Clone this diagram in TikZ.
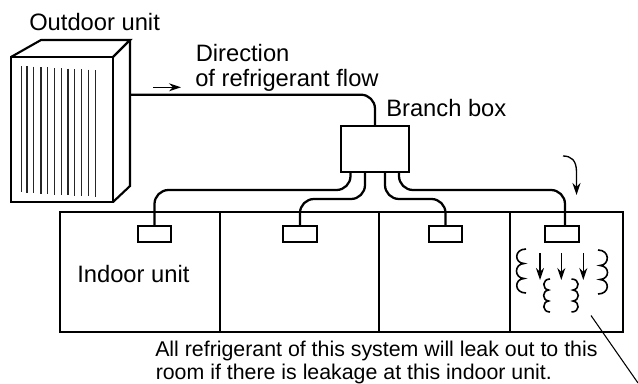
\documentclass[tikz,border=0pt]{standalone}
\usepackage{fontspec}
\setmainfont{Liberation Sans}
\usetikzlibrary{arrows.meta}
\begin{document}
\begin{tikzpicture}[x=0.75pt,y=-0.75pt,
 line/.style={draw=black,line width=1.6pt,line join=miter},
 pipe/.style={draw=black,line width=1.7pt,rounded corners=10.5pt},
 fin/.style={draw=black!85,line width=1pt},
 lbl/.style={inner sep=0pt,anchor=base west,font=\fontsize{17.8pt}{20pt}\selectfont},
 small/.style={inner sep=0pt,anchor=base west,font=\fontsize{16pt}{18pt}\selectfont},
 flow/.style={draw=black,line width=1pt,-{Stealth[length=9pt,width=6pt]}},
 coil/.style={draw=black,line width=1.2pt}]
\useasboundingbox (0,0) rectangle (638,383);
% outdoor unit
\draw[line] (11,57) rectangle (113,202);
\draw[line] (11,57) -- (41,40) -- (130,40) -- (113,57);
\draw[line] (130,40) -- (130,186) -- (113,202);
\foreach \x/\t/\b in {21.5/66/192,27/66/192.5,33.5/66.5/193,41/67/193.5,47.5/67/194,54.5/68/194.5,61.5/68/195,68/68.5/195,74.5/69/195.5,81.5/69/196,88.5/69.5/196,95.5/70/196.5}
  \draw[fin] (\x,\t) -- (\x,\b);
% branch box and indoor
\node[line,minimum width=51pt,minimum height=34.5pt,inner sep=0pt,anchor=north west] (bb) at (340,125) {};
\coordinate (oo) at (130,94.7);
\coordinate (bt) at (375,125);
\draw[pipe] (oo) -| (bt);
\node[line,inner sep=0pt,minimum width=25pt,minimum height=11.5pt] (i1) at (154.5,234) {};
\node[line,inner sep=0pt,minimum width=25pt,minimum height=11.5pt] (i2) at (300,234) {};
\node[line,inner sep=0pt,minimum width=25pt,minimum height=11.5pt] (i3) at (445.5,234) {};
\node[line,inner sep=0pt,minimum width=25pt,minimum height=11.5pt] (i4) at (562,234) {};
\coordinate (b1) at (350.5,171); \coordinate (b2) at (365,171);
\coordinate (b3) at (385,171); \coordinate (b4) at (399,171);
\draw[pipe] (b1) |- (154.5,190) -- (i1.north);
\draw[pipe] (b2) |- (300,199) -- (i2.north);
\draw[pipe] (b3) |- (445.5,199) -- (i3.north);
\draw[pipe] (b4) |- (565,190) -- (565,226);
\draw[line] (60,212) rectangle (623,332);
\draw[line] (220,212) -- (220,332);
\draw[line] (379,212) -- (379,332);
\draw[line] (510,212) -- (510,332);
% flow arrows
\coordinate (fa) at (153,87.3); \coordinate (fb) at (181,87.3);
\draw[flow] (fa) -- (fb);
\coordinate (ca) at (563,156); \coordinate (cb) at (576.5,195);
\draw[flow] (ca) .. controls (571,156) and (576.5,160) .. (576.5,172) -- (cb);
\foreach \x/\a/\b in {540/253/280,561.3/253/280,583.3/253/280}
  \draw[flow] (\x,\a) -- (\x,\b);
% coils
\draw[coil] (526,249) .. controls (514,249) and (514,263) .. (524,263.5)
  .. controls (514,264) and (514,278) .. (524,278.5)
  .. controls (514,279) and (514,293) .. (526,293);
\draw[coil] (598,250) .. controls (610,250) and (610,265) .. (600,265.5)
  .. controls (610,266) and (610,279) .. (600,279.5)
  .. controls (610,280) and (610,294) .. (598,294);
\draw[coil] (550,279) .. controls (542,279) and (542,289) .. (548.5,290)
  .. controls (542,291) and (542,300) .. (548.5,301)
  .. controls (542,302) and (542,312) .. (550,312);
\draw[coil] (571.5,279) .. controls (580,279) and (580,289) .. (573,290)
  .. controls (580,291) and (580,300) .. (573,301)
  .. controls (580,302) and (580,312) .. (571.5,312);
% leader
\coordinate (la) at (591,315.5); \coordinate (lb) at (638,383);
\draw[draw=black,line width=0.8pt] (la) -- (lb);
% text
\node[lbl] (t1) at (29,30.7) {Outdoor unit};
\node[lbl] (t2) at (195.5,61) {Direction};
\node[lbl] (t3) at (195,86.7) {of refrigerant flow};
\node[lbl] (t4) at (386,116.7) {Branch box};
\node[lbl] (t5) at (77,282.3) {Indoor unit};
\node[small] (t6) at (155,356.7) {All refrigerant of this system will leak out to this};
\node[small] (t7) at (155.5,379.3) {room if there is leakage at this indoor unit.};
\end{tikzpicture}
\end{document}
